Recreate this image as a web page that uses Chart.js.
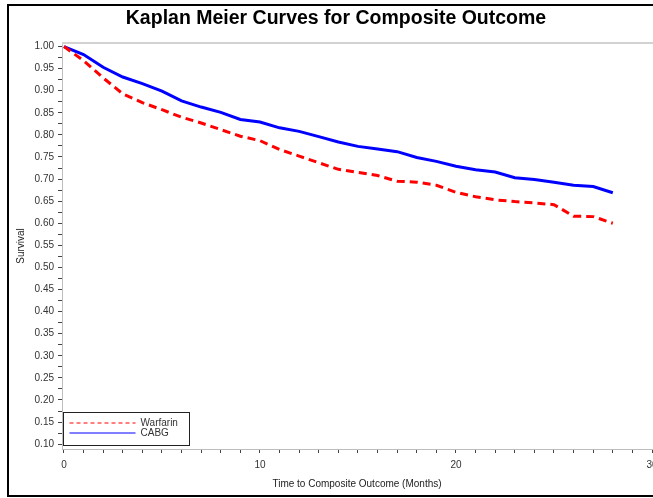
<!DOCTYPE html>
<html>
<head>
<meta charset="utf-8">
<script src="https://cdn.jsdelivr.net/npm/chart.js@4"></script>
<style>
  html, body { margin: 0; padding: 0; overflow: hidden; background: #fff; }
  #wrap { position: relative; width: 653px; height: 498px; overflow: hidden; }
  #frame {
    position: absolute; left: 7px; top: 4px; width: 700px; height: 489px;
    border: 2px solid #000; pointer-events: none;
  }
  canvas { position: absolute; left: 0; top: 0; }
</style>
</head>
<body>
<div id="wrap">
  <canvas id="myChart" width="664" height="498"></canvas>
  <div id="frame"></div>
</div>
<script>
// months since start, one point per month
const months = [0, 1, 2, 3, 4, 5, 6, 7, 8, 9, 10, 11, 12, 13, 14, 15, 16, 17, 18, 19, 20, 21, 22, 23, 24, 25, 26, 27, 28];
const warfarin = [1.000, 0.968, 0.929, 0.893, 0.873, 0.857, 0.840, 0.827, 0.812, 0.797, 0.787, 0.767, 0.752, 0.737,
                  0.722, 0.715, 0.708, 0.695, 0.693, 0.686, 0.670, 0.660, 0.653, 0.649, 0.646, 0.642, 0.616, 0.615, 0.600];
const cabg = [1.000, 0.982, 0.953, 0.931, 0.916, 0.899, 0.877, 0.863, 0.851, 0.835, 0.829, 0.816, 0.808, 0.796,
              0.784, 0.774, 0.768, 0.762, 0.749, 0.740, 0.729, 0.721, 0.716, 0.703, 0.699, 0.693, 0.686, 0.683, 0.669];
const xTicks = [0, 1, 2, 3, 4, 5, 6, 7, 8, 9, 10, 11, 12, 13, 14, 15, 16, 17, 18, 19, 20, 21, 22, 23, 24, 25, 26, 27, 28, 29, 30];
const yTicks = [0.100, 0.125, 0.150, 0.175, 0.200, 0.225, 0.250, 0.275, 0.300, 0.325, 0.350, 0.375, 0.400, 0.425,
                0.450, 0.475, 0.500, 0.525, 0.550, 0.575, 0.600, 0.625, 0.650, 0.675, 0.700, 0.725, 0.750, 0.775,
                0.800, 0.825, 0.850, 0.875, 0.900, 0.925, 0.950, 0.975, 1.000];

const FONT = "'Liberation Sans', Arial, sans-serif";
const RED = "#ff0000";
const BLUE = "#0000ff";

const toPoints = (ys) => months.map((m, i) => ({ x: m, y: ys[i] }));

// gray line along the top of the plot area
const topBorder = {
  id: "topBorder",
  beforeDatasetsDraw(chart) {
    const { ctx, chartArea } = chart;
    ctx.save();
    ctx.strokeStyle = "#d2d2d2";
    ctx.lineWidth = 2;
    ctx.beginPath();
    ctx.moveTo(chartArea.left, chartArea.top);
    ctx.lineTo(chartArea.right + 10, chartArea.top);
    ctx.stroke();
    ctx.restore();
  }
};

// boxed legend in the lower left corner of the plot
const legendItems = [
  { label: "Warfarin", color: RED, dash: [4, 3] },
  { label: "CABG", color: BLUE, dash: [] }
];
const cornerLegend = {
  id: "cornerLegend",
  afterDraw(chart) {
    const { ctx, chartArea } = chart;
    const left = chartArea.left + 1.5;
    const top = chartArea.bottom - 36.5;
    ctx.save();
    ctx.fillStyle = "#fff";
    ctx.fillRect(left, top, 126, 33);
    ctx.strokeStyle = "#222";
    ctx.lineWidth = 1;
    ctx.strokeRect(left, top, 126, 33);
    ctx.font = "10px " + FONT;
    ctx.textBaseline = "middle";
    legendItems.forEach((item, i) => {
      const y = Math.round(top + 10 + i * 10.5);
      ctx.save();
      ctx.strokeStyle = item.color;
      ctx.lineWidth = 1.2;
      ctx.setLineDash(item.dash);
      ctx.beginPath();
      ctx.moveTo(left + 6, y);
      ctx.lineTo(left + 72, y);
      ctx.stroke();
      ctx.restore();
      ctx.fillStyle = "#333";
      ctx.fillText(item.label, left + 77, y + 0.5);
    });
    ctx.restore();
  }
};

const ctx = document.getElementById("myChart").getContext("2d");
const chart = new Chart(ctx, {
  type: "line",
  data: {
    datasets: [
      {
        label: "Warfarin",
        data: toPoints(warfarin),
        borderColor: RED,
        borderWidth: 3,
        borderDash: [8, 5],
        pointRadius: 0,
        tension: 0,
        fill: false
      },
      {
        label: "CABG",
        data: toPoints(cabg),
        borderColor: BLUE,
        borderWidth: 3,
        pointRadius: 0,
        tension: 0,
        fill: false
      }
    ]
  },
  options: {
    responsive: false,
    animation: false,
    devicePixelRatio: 1,
    layout: { padding: { left: 20, right: 12, top: 0, bottom: 0 } },
    plugins: {
      legend: { display: false },
      tooltip: { enabled: false },
      title: {
        display: true,
        text: "Kaplan Meier Curves for Composite Outcome",
        color: "#000",
        font: { family: FONT, size: 19.5, weight: "bold" },
        padding: { top: 7, bottom: 12.6 }
      }
    },
    scales: {
      x: {
        type: "linear",
        min: -0.1,
        max: 30,
        afterBuildTicks: (s) => { s.ticks = xTicks.map((v) => ({ value: v })); },
        afterFit: (s) => { s.height = 49; },
        grid: { drawOnChartArea: false, drawTicks: true, tickLength: 4, tickColor: "#444" },
        border: { color: "#bdbdbd", width: 1 },
        ticks: {
          autoSkip: false,
          maxRotation: 0,
          padding: 6,
          color: "#333",
          font: { family: FONT, size: 10 },
          callback: (v) => (v % 10 === 0 ? String(v) : "")
        },
        title: {
          display: true,
          text: "Time to Composite Outcome (Months)",
          color: "#222",
          font: { family: FONT, size: 10 },
          padding: { top: 0, bottom: 7.5 }
        }
      },
      y: {
        type: "linear",
        min: 0.089,
        max: 1.008,
        afterBuildTicks: (s) => { s.ticks = yTicks.map((v) => ({ value: v })); },
        afterFit: (s) => { s.width = 42; },
        grid: { drawOnChartArea: false, drawTicks: true, tickLength: 4, tickColor: "#444" },
        border: { color: "#bdbdbd", width: 1 },
        ticks: {
          autoSkip: false,
          padding: 4,
          color: "#333",
          font: { family: FONT, size: 10 },
          callback: (v) => (Math.round(v * 1000) % 50 === 0 ? v.toFixed(2) : "")
        },
        title: {
          display: true,
          text: "Survival",
          color: "#222",
          font: { family: FONT, size: 10 },
          padding: { top: -5, bottom: 0 }
        }
      }
    }
  },
  plugins: [topBorder, cornerLegend]
});
</script>
</body>
</html>
